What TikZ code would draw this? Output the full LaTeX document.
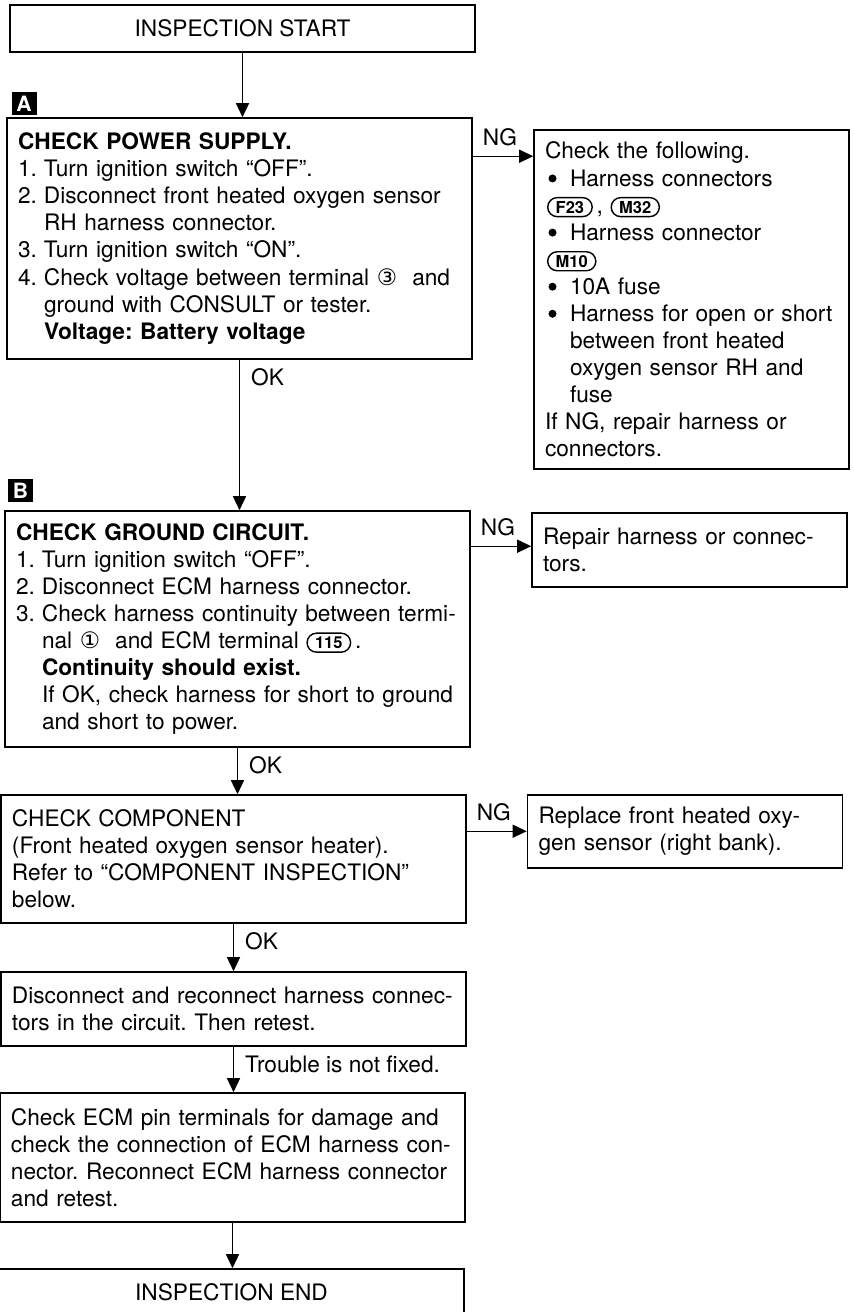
\documentclass[tikz,border=0pt]{standalone}
\usepackage{fontspec}
\setmainfont{TeX Gyre Heros}
\newfontfamily\symfont{DejaVu Sans}
\usetikzlibrary{arrows.meta}

% numbered item, hanging indent, bullet
\newcommand\itm[1]{\makebox[5.2mm][l]{#1}}
\newcommand\ind{\hspace*{5.2mm}}
\newcommand\bul{\makebox[5mm][l]{\hspace{0.7mm}%
    \raisebox{0.3ex}{\tikz\fill (0,0) circle (0.8mm);}}}
\newcommand\bind{\hspace*{5mm}}
% connector symbol (rounded frame)
\newcommand\conn[1]{\tikz[baseline=(c.base)]\node[
    draw, line width=0.8pt, rounded corners=1.9mm,
    minimum width=0pt, minimum height=3.8mm, text width=,
    inner xsep=1.6mm, inner ysep=0.5mm, align=center,
    font=\fontsize{9.4}{10}\selectfont\bfseries] (c) {#1};}

\begin{document}
\begin{tikzpicture}[
    >={Triangle[width=2.6mm,length=2.8mm]},
    every node/.style={font=\fontsize{12.9}{15.4}\selectfont\frenchspacing},
    termbox/.style={
        draw, line width=0.9pt, minimum width=93mm,
        minimum height=9.4mm, align=center
    },
    stepbox/.style={
        draw, line width=0.9pt, minimum width=93mm,
        text width=88.6mm, inner xsep=2.2mm, align=left
    },
    sidebox/.style={
        draw, line width=0.9pt, minimum width=63mm,
        text width=58.6mm, inner xsep=2.2mm, align=left
    },
    tag/.style={
        fill=black, text=white, inner sep=0pt,
        minimum width=5mm, minimum height=4.6mm,
        font=\fontsize{12}{12}\selectfont\bfseries
    },
    flow/.style={->, line width=0.8pt},
    ngl/.style={inner sep=0.8mm, pos=0.45, above=1.2mm},
    okl/.style={inner sep=0.8mm, pos=0, anchor=north west,
        xshift=1.4mm, yshift=-0.8mm}
]
\clip (0mm, 0mm) rectangle (170.6mm, -262.4mm);

% ----------------------------------------------------------
% Start
% ----------------------------------------------------------
\node[termbox] (start) at (48.5mm, -5.7mm) {INSPECTION START};

% ----------------------------------------------------------
% A: power supply
% ----------------------------------------------------------
\node[tag] (tA) at (4.8mm, -20.8mm) {A};

\node[stepbox, minimum height=48.2mm] (pwr) at (47.9mm, -47.7mm) {%
    \textbf{CHECK POWER SUPPLY.}\\
    \itm{1.}Turn ignition switch “OFF”.\\
    \itm{2.}Disconnect front heated oxygen sensor\\
    \ind RH harness connector.\\
    \itm{3.}Turn ignition switch “ON”.\\
    \itm{4.}Check voltage between terminal {\symfont ③}~ and\\
    \ind ground with CONSULT or tester.\\
    \ind\textbf{Voltage: Battery voltage}};

\node[sidebox, minimum height=67.8mm] (chk) at (138.3mm, -59.9mm) {%
    Check the following.\\
    \bul Harness connectors\\
    \hspace*{0.4mm}\conn{F23}\,, \conn{M32}\\
    \bul Harness connector\\
    \hspace*{0.4mm}\conn{M10}\\
    \bul 10A fuse\\
    \bul Harness for open or short\\
    \bind between front heated\\
    \bind oxygen sensor RH and\\
    \bind fuse\\
    If NG, repair harness or\\
    connectors.};

\draw[flow] (start.south) -- (start.south |- pwr.north);
\draw[flow] ([yshift=-7.8mm]pwr.north east)
    -- ([yshift=-7.8mm]pwr.north east -| chk.west) node[ngl] {NG};

% ----------------------------------------------------------
% B: ground circuit
% ----------------------------------------------------------
\node[tag] (tB) at (4.1mm, -98.1mm) {B};

\node[stepbox, minimum height=47.2mm] (gnd) at (47.5mm, -125.8mm) {%
    \textbf{CHECK GROUND CIRCUIT.}\\
    \itm{1.}Turn ignition switch “OFF”.\\
    \itm{2.}Disconnect ECM harness connector.\\
    \itm{3.}Check harness continuity between termi-\\
    \ind nal {\symfont ①}~ and ECM terminal \conn{115}\,.\\
    \ind\textbf{Continuity should exist.}\\
    \ind If OK, check harness for short to ground\\
    \ind and short to power.};

\node[sidebox, minimum height=14.8mm] (rep) at (137.9mm, -110mm) {%
    Repair harness or connec-\\
    tors.};

\draw[flow] (pwr.south) -- (pwr.south |- gnd.north) node[okl] {OK};
\draw[flow] ([yshift=-7.2mm]gnd.north east)
    -- ([yshift=-7.2mm]gnd.north east -| rep.west) node[ngl] {NG};

% ----------------------------------------------------------
% Component check
% ----------------------------------------------------------
\node[stepbox, minimum height=25.6mm] (comp) at (46.7mm, -171.8mm) {%
    CHECK COMPONENT\\
    (Front heated oxygen sensor heater).\\
    Refer to “COMPONENT INSPECTION”\\
    below.};

\node[sidebox, minimum height=14.6mm] (repl) at (137mm, -166.3mm) {%
    Replace front heated oxy-\\
    gen sensor (right bank).};

\draw[flow] (gnd.south) -- (gnd.south |- comp.north) node[okl] {OK};
\draw[flow] ([yshift=-7.4mm]comp.north east)
    -- ([yshift=-7.4mm]comp.north east -| repl.west) node[ngl] {NG};

% ----------------------------------------------------------
% Reconnect, ECM check, end
% ----------------------------------------------------------
\node[stepbox, minimum height=14.8mm] (disc) at (46.7mm, -201.8mm) {%
    Disconnect and reconnect harness connec-\\
    tors in the circuit. Then retest.};

\node[stepbox, minimum height=25.8mm] (ecm) at (46.5mm, -231.5mm) {%
    Check ECM pin terminals for damage and\\
    check the connection of ECM harness con-\\
    nector. Reconnect ECM harness connector\\
    and retest.};

\node[termbox] (end) at (46.3mm, -258.5mm) {INSPECTION END};

\draw[flow] (comp.south) -- (comp.south |- disc.north) node[okl] {OK};
\draw[flow] (disc.south) -- (disc.south |- ecm.north)
    node[okl] {Trouble is not fixed.};
\draw[flow] (ecm.south) -- (ecm.south |- end.north);

\end{tikzpicture}
\end{document}
